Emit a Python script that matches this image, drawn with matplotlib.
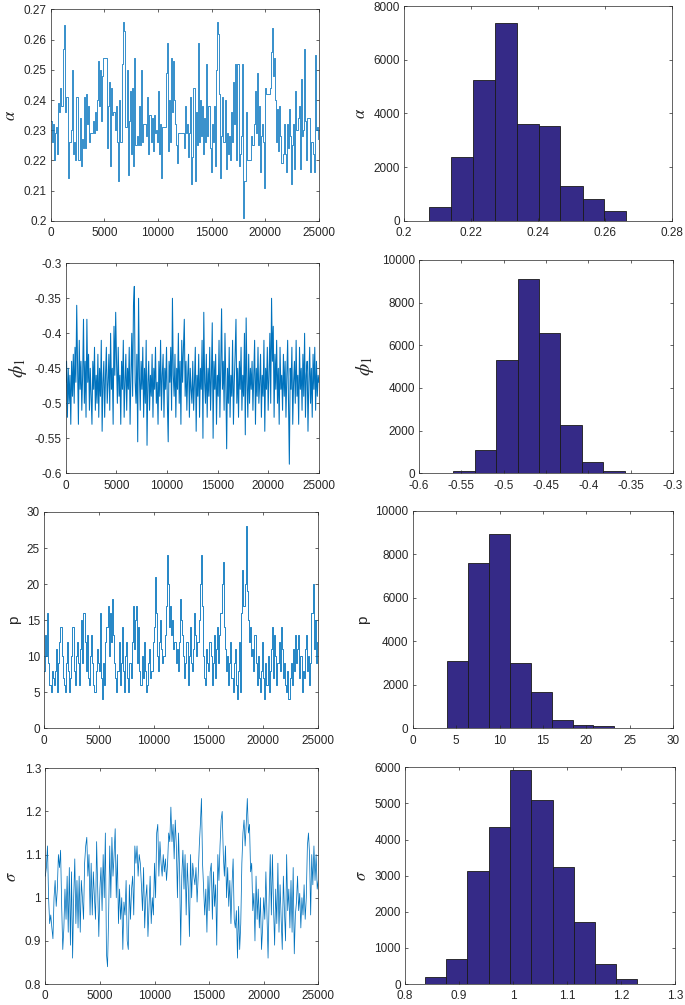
# ============================================================================
# LIBRARY IMPORTS
# ============================================================================
import numpy as np
import matplotlib
matplotlib.use('Agg')
import matplotlib.pyplot as plt

plt.rcParams['font.family'] = ['Liberation Sans', 'DejaVu Sans']
plt.rcParams['mathtext.fontset'] = 'stix'

# ============================================================================
# DATA: MCMC TRACES (iterations 0..25000)
# ============================================================================
n_iter = 25000

alpha_trace = [
    0.233, 0.226, 0.232, 0.220, 0.229, 0.231, 0.222, 0.239, 0.236, 0.244,
    0.238, 0.257, 0.265, 0.236, 0.241, 0.241, 0.214, 0.226, 0.226, 0.230,
    0.250, 0.222, 0.226, 0.220, 0.241, 0.220, 0.220, 0.234, 0.218, 0.227,
    0.224, 0.241, 0.224, 0.242, 0.232, 0.238, 0.226, 0.229, 0.229, 0.233,
    0.229, 0.236, 0.230, 0.240, 0.253, 0.238, 0.250, 0.233, 0.248, 0.254,
    0.254, 0.254, 0.224, 0.238, 0.246, 0.218, 0.244, 0.235, 0.236, 0.236,
    0.230, 0.238, 0.226, 0.213, 0.240, 0.226, 0.252, 0.266, 0.263, 0.231,
    0.231, 0.250, 0.215, 0.233, 0.243, 0.222, 0.244, 0.218, 0.254, 0.225,
    0.228, 0.225, 0.238, 0.225, 0.250, 0.226, 0.232, 0.232, 0.232, 0.228,
    0.241, 0.222, 0.235, 0.226, 0.234, 0.223, 0.235, 0.229, 0.230, 0.226,
    0.243, 0.222, 0.232, 0.214, 0.231, 0.231, 0.231, 0.249, 0.259, 0.223,
    0.240, 0.226, 0.254, 0.236, 0.253, 0.240, 0.232, 0.225, 0.219, 0.229,
    0.229, 0.229, 0.229, 0.229, 0.224, 0.238, 0.229, 0.232, 0.221, 0.229,
    0.241, 0.212, 0.221, 0.244, 0.213, 0.236, 0.225, 0.259, 0.226, 0.240,
    0.228, 0.238, 0.222, 0.234, 0.226, 0.252, 0.228, 0.238, 0.224, 0.216,
    0.232, 0.226, 0.238, 0.218, 0.250, 0.266, 0.262, 0.242, 0.214, 0.228,
    0.241, 0.226, 0.240, 0.217, 0.229, 0.222, 0.228, 0.220, 0.236, 0.226,
    0.246, 0.232, 0.252, 0.220, 0.252, 0.218, 0.222, 0.228, 0.252, 0.201,
    0.213, 0.213, 0.236, 0.220, 0.220, 0.220, 0.220, 0.228, 0.225, 0.232,
    0.243, 0.229, 0.249, 0.225, 0.238, 0.216, 0.228, 0.232, 0.226, 0.211,
    0.244, 0.242, 0.242, 0.242, 0.244, 0.256, 0.264, 0.248, 0.254, 0.240,
    0.226, 0.237, 0.223, 0.238, 0.228, 0.219, 0.222, 0.232, 0.222, 0.216,
    0.232, 0.224, 0.237, 0.228, 0.212, 0.225, 0.232, 0.217, 0.243, 0.230,
    0.234, 0.238, 0.217, 0.247, 0.228, 0.230, 0.257, 0.233, 0.220, 0.234,
    0.234, 0.234, 0.216, 0.226, 0.222, 0.216, 0.255, 0.230, 0.231, 0.227,
    0.231,
]

phi1_trace = [
    -0.47, -0.44, -0.52, -0.45, -0.50, -0.46, -0.53, -0.44, -0.49, -0.43,
    -0.50, -0.42, -0.47, -0.36, -0.45, -0.53, -0.41, -0.48, -0.44, -0.51,
    -0.46, -0.38, -0.50, -0.44, -0.52, -0.38, -0.47, -0.43, -0.51, -0.45,
    -0.49, -0.53, -0.44, -0.48, -0.42, -0.51, -0.46, -0.50, -0.43, -0.52,
    -0.45, -0.49, -0.41, -0.54, -0.47, -0.44, -0.52, -0.46, -0.42, -0.50,
    -0.47, -0.43, -0.51, -0.40, -0.48, -0.45, -0.53, -0.39, -0.46, -0.37,
    -0.44, -0.50, -0.42, -0.49, -0.46, -0.53, -0.44, -0.48, -0.41, -0.52,
    -0.47, -0.43, -0.51, -0.45, -0.48, -0.42, -0.53, -0.46, -0.40, -0.49,
    -0.36, -0.333, -0.47, -0.50, -0.43, -0.555, -0.35, -0.46, -0.51, -0.44,
    -0.48, -0.42, -0.52, -0.45, -0.50, -0.41, -0.56, -0.47, -0.44, -0.51,
    -0.46, -0.49, -0.43, -0.52, -0.45, -0.48, -0.42, -0.50, -0.47, -0.53,
    -0.44, -0.49, -0.41, -0.51, -0.46, -0.43, -0.52, -0.45, -0.48, -0.42,
    -0.50, -0.555, -0.44, -0.47, -0.42, -0.51, -0.35, -0.46, -0.49, -0.43,
    -0.52, -0.45, -0.48, -0.40, -0.50, -0.44, -0.53, -0.41, -0.47, -0.42,
    -0.38, -0.49, -0.44, -0.51, -0.46, -0.43, -0.52, -0.45, -0.48, -0.50,
    -0.44, -0.51, -0.47, -0.42, -0.54, -0.46, -0.49, -0.43, -0.52, -0.45,
    -0.48, -0.41, -0.55, -0.37, -0.47, -0.50, -0.43, -0.52, -0.45, -0.49,
    -0.42, -0.51, -0.46, -0.385, -0.55, -0.44, -0.48, -0.43, -0.53, -0.46,
    -0.49, -0.41, -0.52, -0.45, -0.365, -0.48, -0.44, -0.51, -0.40, -0.47,
    -0.565, -0.45, -0.50, -0.42, -0.52, -0.46, -0.49, -0.41, -0.53, -0.47,
    -0.43, -0.38, -0.50, -0.45, -0.52, -0.44, -0.48, -0.42, -0.51, -0.46,
    -0.49, -0.40, -0.545, -0.378, -0.47, -0.52, -0.43, -0.50, -0.45, -0.48,
    -0.44, -0.51, -0.46, -0.41, -0.53, -0.45, -0.49, -0.42, -0.50, -0.47,
    -0.43, -0.52, -0.46, -0.49, -0.41, -0.54, -0.45, -0.48, -0.42, -0.51,
    -0.46, -0.40, -0.50, -0.35, -0.44, -0.39, -0.52, -0.43, -0.48, -0.41,
    -0.50, -0.45, -0.53, -0.42, -0.48, -0.46, -0.51, -0.43, -0.49, -0.44,
    -0.52, -0.46, -0.41, -0.50, -0.587, -0.45, -0.48, -0.42, -0.53, -0.47,
    -0.44, -0.50, -0.41, -0.49, -0.46, -0.53, -0.42, -0.48, -0.45, -0.51,
    -0.43, -0.49, -0.40, -0.52, -0.46, -0.44, -0.54, -0.47, -0.42, -0.50,
    -0.45, -0.52, -0.43, -0.48, -0.42, -0.51, -0.44, -0.49, -0.46, -0.47,
]

p_trace = [
    8, 13, 10, 16, 9, 6, 5, 8, 7, 6,
    8, 11, 5, 9, 12, 14, 10, 7, 6, 5,
    9, 12, 8, 5, 7, 10, 14, 8, 6, 10,
    12, 9, 6, 11, 15, 9, 16, 12, 8, 13,
    7, 6, 10, 13, 9, 6, 5, 8, 11, 9,
    8, 16, 7, 4, 9, 6, 12, 14, 17, 10,
    16, 12, 18, 13, 9, 7, 5, 8, 12, 6,
    9, 14, 8, 5, 10, 12, 7, 5, 9, 7,
    12, 17, 11, 15, 17, 9, 14, 8, 6, 10,
    7, 12, 8, 5, 6, 9, 11, 7, 8, 12,
    14, 21, 16, 10, 8, 12, 15, 11, 9, 10,
    13, 17, 24, 20, 14, 17, 13, 15, 11, 12,
    9, 11, 8, 12, 18, 15, 13, 10, 7, 9,
    12, 6, 10, 14, 9, 8, 11, 16, 13, 10,
    12, 15, 20, 24, 17, 10, 7, 6, 11, 9,
    8, 12, 10, 6, 9, 13, 7, 11, 14, 9,
    13, 16, 20, 23, 14, 11, 8, 10, 6, 9,
    12, 7, 5, 9, 11, 6, 4, 8, 12, 5,
    16, 22, 17, 20, 28, 19, 15, 12, 14, 10,
    11, 8, 13, 9, 6, 10, 7, 5, 8, 12,
    7, 4, 9, 6, 10, 5, 8, 11, 14, 7,
    13, 10, 6, 9, 12, 8, 14, 11, 7, 9,
    6, 5, 8, 4, 7, 9, 6, 11, 8, 13,
    9, 11, 13, 7, 10, 5, 8, 7, 11, 13,
    8, 10, 6, 9, 16, 20, 11, 15, 9, 12,
    14,
]

sigma_trace = [
    1.05, 1.07, 1.12, 1.00, 0.94, 0.96, 0.93, 0.905, 1.00, 1.04,
    0.98, 1.02, 1.10, 1.07, 1.11, 0.98, 0.88, 0.93, 1.02, 0.95,
    1.05, 0.92, 1.07, 0.89, 1.06, 0.86, 1.00, 1.09, 0.94, 1.04,
    0.93, 1.05, 0.92, 1.04, 1.00, 0.95, 1.08, 1.12, 1.14, 1.05,
    1.10, 0.96, 1.08, 0.96, 1.06, 1.00, 0.95, 1.13, 1.02, 0.91,
    1.02, 1.07, 0.97, 1.10, 1.00, 1.15, 0.87, 0.84, 0.96, 1.12,
    1.00, 1.14, 1.05, 1.10, 1.16, 1.00, 1.10, 0.94, 1.02, 0.95,
    1.00, 0.88, 0.99, 0.96, 1.04, 0.90, 0.88, 1.03, 0.95, 1.02,
    1.05, 0.96, 1.12, 1.08, 1.12, 1.05, 1.10, 1.08, 1.03, 0.97,
    1.07, 0.93, 1.00, 1.03, 0.91, 0.98, 1.05, 0.94, 1.00, 0.96,
    1.08, 1.00, 1.15, 1.17, 1.05, 1.13, 1.08, 1.05, 1.10, 1.06,
    1.09, 1.04, 1.08, 1.15, 1.13, 1.21, 1.13, 1.17, 1.09, 1.18,
    1.12, 1.00, 1.15, 1.06, 0.89, 1.05, 1.11, 1.02, 1.10, 0.96,
    1.08, 1.02, 0.91, 1.10, 1.00, 1.08, 1.05, 1.03, 1.07, 0.99,
    1.05, 1.12, 1.17, 1.23, 1.08, 1.02, 0.96, 1.02, 0.92, 1.05,
    0.97, 1.06, 1.08, 0.95, 1.06, 0.98, 1.03, 0.89, 1.10, 1.04,
    1.12, 1.18, 1.20, 1.10, 1.05, 1.12, 1.00, 1.07, 0.98, 1.04,
    0.94, 1.03, 1.09, 0.95, 0.93, 0.97, 0.86, 0.98, 0.88, 0.94,
    1.08, 1.15, 1.18, 1.12, 1.17, 1.23, 1.15, 1.17, 1.06, 1.08,
    0.97, 1.01, 0.90, 1.05, 0.95, 1.02, 0.93, 1.00, 0.88, 0.93,
    1.00, 0.95, 1.06, 0.96, 0.86, 1.00, 1.10, 0.96, 1.10, 0.98,
    0.89, 1.02, 0.94, 1.08, 0.92, 1.03, 0.95, 0.88, 1.05, 0.97,
    0.90, 1.10, 0.97, 1.02, 0.93, 1.04, 0.92, 1.07, 0.87, 0.96,
    0.99, 1.05, 0.97, 1.01, 0.93, 1.00, 0.96, 1.03, 0.95, 1.00,
    1.12, 1.15, 1.10, 0.96, 1.10, 1.03, 1.12, 1.04, 1.10, 1.02,
    1.04,
]

# ============================================================================
# DATA: HISTOGRAMS (bin edges and counts)
# ============================================================================
alpha_edges = [0.2075, 0.2141, 0.2207, 0.2271, 0.2337, 0.2402,
               0.2467, 0.2533, 0.2598, 0.2664]
alpha_counts = [500, 2360, 5260, 7370, 3610, 3540, 1310, 800, 360]

phi1_edges = [-0.585, -0.5595, -0.5339, -0.5088, -0.4836, -0.458,
              -0.4329, -0.4077, -0.3825, -0.357, -0.3318]
phi1_counts = [5, 110, 1080, 5300, 9130, 6580, 2270, 540, 100, 5]

p_edges = [4.0, 6.4, 8.8, 11.2, 13.6, 16.0, 18.4, 20.8, 23.2, 25.6, 28.0]
p_counts = [3110, 7590, 8920, 3000, 1690, 370, 170, 90, 30, 25]

sigma_edges = [0.837, 0.876, 0.9154, 0.955, 0.9944, 1.034, 1.0735,
               1.1123, 1.1512, 1.190, 1.229]
sigma_counts = [195, 690, 3140, 4350, 5920, 5090, 3230, 1710, 545, 140]

# ============================================================================
# FIGURE LAYOUT (axes boxes in pixels: left, top, right, bottom)
# ============================================================================
W, H = 685, 1005
fig = plt.figure(figsize=(W / 100, H / 100), dpi=100)

def px_axes(l, t, r, b):
    return fig.add_axes([l / W, 1 - b / H, (r - l) / W, (b - t) / H])

boxes_trace = [(50.7, 9.5, 319, 220.7), (65.7, 263.3, 319, 473.3),
               (44, 512, 318, 728.3), (45.3, 768.3, 318.3, 984)]
boxes_hist = [(404, 6, 672, 220.7), (419, 260, 673, 473.3),
              (412.7, 510.7, 673.3, 728.3), (405, 767.3, 675, 984)]

line_color = '#0072BD'
bar_color = '#352A87'
axis_color = '#262626'
fmt = plt.FuncFormatter(lambda v, _: f'{round(v, 6):g}')

def style(ax, xlim, xticks, ylim, yticks):
    ax.set_xlim(xlim)
    ax.set_ylim(ylim)
    ax.set_xticks(xticks)
    ax.set_yticks(yticks)
    ax.xaxis.set_major_formatter(fmt)
    ax.yaxis.set_major_formatter(fmt)
    ax.tick_params(direction='in', length=2.5, width=0.5, labelsize=8.5,
                   colors=axis_color, top=True, right=True)
    ax.tick_params(axis='x', pad=4.5)
    ax.tick_params(axis='y', pad=3)
    for s in ax.spines.values():
        s.set_linewidth(0.5)
        s.set_color(axis_color)

labels = [r'$\alpha$', r'$\phi_1$', 'p', r'$\sigma$']
label_sizes = [12, 14, 11, 12]
traces = [alpha_trace, phi1_trace, p_trace, sigma_trace]
trace_steps = ['steps-post', 'default', 'steps-post', 'default']
trace_widths = [0.55, 0.75, 0.6, 0.55]
trace_ylims = [(0.2, 0.27), (-0.6, -0.3), (0, 30), (0.8, 1.3)]
trace_yticks = [np.arange(0.2, 0.2701, 0.01), np.arange(-0.6, -0.2999, 0.05),
                np.arange(0, 31, 5), np.arange(0.8, 1.3001, 0.1)]
hist_data = [(alpha_edges, alpha_counts), (phi1_edges, phi1_counts),
             (p_edges, p_counts), (sigma_edges, sigma_counts)]
hist_xlims = [(0.2, 0.28), (-0.6, -0.3), (0, 30), (0.8, 1.3)]
hist_xticks = [np.arange(0.2, 0.2801, 0.02), np.arange(-0.6, -0.2999, 0.05),
               np.arange(0, 31, 5), np.arange(0.8, 1.3001, 0.1)]
hist_ylims = [(0, 8000), (0, 10000), (0, 10000), (0, 6000)]
hist_yticks = [np.arange(0, 8001, 2000), np.arange(0, 10001, 2000),
               np.arange(0, 10001, 2000), np.arange(0, 6001, 1000)]

# ============================================================================
# TRACE PLOTS (left) AND HISTOGRAMS (right)
# ============================================================================
for k in range(4):
    ax = px_axes(*boxes_trace[k])
    y = np.asarray(traces[k], dtype=float)
    x = np.linspace(0, n_iter, len(y))
    ax.plot(x, y, color=line_color, linewidth=trace_widths[k],
            drawstyle=trace_steps[k])
    style(ax, (0, n_iter), np.arange(0, n_iter + 1, 5000),
          trace_ylims[k], trace_yticks[k])
    ax.set_ylabel(labels[k], fontsize=label_sizes[k], color=axis_color)

    axh = px_axes(*boxes_hist[k])
    edges, counts = hist_data[k]
    edges = np.asarray(edges)
    axh.bar(edges[:-1], counts, width=np.diff(edges), align='edge',
            color=bar_color, edgecolor='#1a1a1a', linewidth=0.6)
    style(axh, hist_xlims[k], hist_xticks[k], hist_ylims[k], hist_yticks[k])
    axh.set_ylabel(labels[k], fontsize=label_sizes[k], color=axis_color)

# ============================================================================
# SAVE
# ============================================================================
fig.savefig('out.png', dpi=100, facecolor='white')
